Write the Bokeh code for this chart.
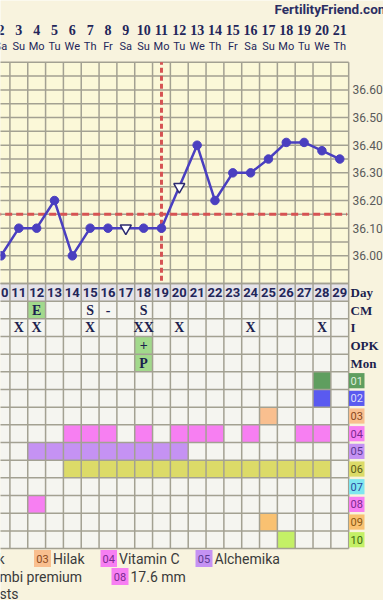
import numpy as np
from bokeh.plotting import figure
from bokeh.models import Range1d
from bokeh.core.properties import value
from bokeh.embed import file_html
from bokeh.resources import INLINE

# ---------------- data ----------------
cycle_days = [10, 11, 12, 13, 14, 15, 16, 17, 18, 19, 20, 21, 22, 23, 24, 25, 26, 27, 28, 29]
dates = ["2", "3", "4", "5", "6", "7", "8", "9", "10", "11", "12", "13", "14", "15", "16", "17", "18", "19", "20", "21"]
weekdays = ["Sa", "Su", "Mo", "Tu", "We", "Th", "Fr", "Sa", "Su", "Mo", "Tu", "We", "Th", "Fr", "Sa", "Su", "Mo", "Tu", "We", "Th"]
temps = [36.00, 36.10, 36.10, 36.20, 36.00, 36.10, 36.10, 36.10, 36.10, 36.10,
         36.25, 36.40, 36.20, 36.30, 36.30, 36.35, 36.41, 36.41, 36.38, 36.35]
open_days = [17, 20]
coverline = 36.15
ovulation_day = 19
temp_ticks = [36.00, 36.10, 36.20, 36.30, 36.40, 36.50, 36.60]
temp_tick_labels = ["36.00", "36.10", "36.20", "36.30", "36.40", "36.50", "36.60"]

row_labels = ["Day", "CM", "I", "OPK", "Mon"]
cm_days = [12, 15, 16, 18]
cm_vals = ["E", "S", "-", "S"]
i_days = [11, 12, 15, 18, 20, 24, 28]
i_vals = ["X", "X", "X", "XX", "X", "X", "X"]
opk_days = [18]
opk_vals = ["+"]
mon_days = [18]
mon_vals = ["P"]
green_cm_days = [12]

supp_codes = ["01", "02", "03", "04", "05", "06", "07", "08", "09", "10"]
supp_colors = ["#5f9e5f", "#5a5af0", "#f9bf8f", "#f77ff2", "#c592f3", "#dcdb68", "#7fe6ef", "#f77ff2", "#f9c171", "#c4f066"]
supp_text_colors = ["#dfeedd", "#dcdcf8", "#8a4a1e", "#7a2a90", "#5c3a92", "#5a5a18", "#2a4aa0", "#7a2a90", "#8a5a14", "#3c6a12"]
supp_days = [
    [28],
    [28],
    [25],
    [14, 15, 16, 18, 20, 21, 22, 24, 27, 28],
    [12, 13, 14, 15, 16, 17, 18, 19, 20],
    [14, 15, 16, 17, 18, 19, 20, 21, 22, 23, 24, 25, 26, 27, 28],
    [],
    [12],
    [25],
    [26],
]

legend_codes = ["03", "04", "05", "08"]
legend_labels = ["Hilak", "Vitamin C", "Alchemika", "17.6 mm"]
legend_partial = ["k", "mbi premium", "sts"]

# ---------------- layout constants ----------------
W, H = 383, 600
COL = 17.83          # px per day
X0 = 9.972           # day value at pixel 0
ROW = 17.67          # px per chart row
ROW_TOP = 283.0      # pixel of the top of the "Day" row
PXDEG = 276.6        # px per degree
T_BOT, T_TOP = 35.90, 36.70

def xd(px):
    return X0 + px / COL

def yr(px):
    return (px - ROW_TOP) / ROW

PAGE = "#f8f3de"
TEMP_BG = "#fbf8d8"
CELL_BG = "#f5f5f0"
DAY_BG = "#e5e3e9"
GRID = "#a3a192"
NAVY = "#23265a"
BLUE = "#4a3fc0"
RED = "#d65353"
GREEN = "#a2d98c"

p = figure(width=W, height=H, output_backend="svg", toolbar_location=None,
           x_range=Range1d(X0, X0 + W / COL),
           y_range=Range1d((H - ROW_TOP) / ROW, -ROW_TOP / ROW),
           min_border=0, x_axis_location=None, y_axis_location=None)
p.extra_y_ranges = {"temp": Range1d(T_BOT - (H - ROW_TOP) / PXDEG, T_BOT + ROW_TOP / PXDEG)}
p.grid.visible = False
p.outline_line_color = None
p.background_fill_color = PAGE
p.border_fill_color = PAGE

first, last = cycle_days[0], cycle_days[-1]
left_edge, right_edge = first - 1.0, last + 0.5
n_rows = len(row_labels) + len(supp_codes)

# backgrounds
p.quad(left=[left_edge], right=[right_edge], bottom=[T_BOT], top=[T_TOP],
       fill_color=TEMP_BG, line_color=None, y_range_name="temp")
p.quad(left=[left_edge], right=[right_edge], top=[0], bottom=[n_rows],
       fill_color=CELL_BG, line_color=None)
p.quad(left=[left_edge], right=[right_edge], top=[0], bottom=[1],
       fill_color=DAY_BG, line_color=None)

# green marked cells (CM, OPK, Mon)
gx = green_cm_days + opk_days + mon_days
gy = [1] * len(green_cm_days) + [3] * len(opk_days) + [4] * len(mon_days)
p.quad(left=[d - 0.5 for d in gx], right=[d + 0.5 for d in gx],
       top=gy, bottom=[g + 1 for g in gy], fill_color=GREEN, line_color=None)

# supplement cells
for r, (days, col) in enumerate(zip(supp_days, supp_colors)):
    if not days:
        continue
    row = len(row_labels) + r
    p.quad(left=[d - 0.5 for d in days], right=[d + 0.5 for d in days],
           top=[row] * len(days), bottom=[row + 1] * len(days),
           fill_color=col, line_color=None)

# grid lines
vx = [d - 0.5 for d in cycle_days] + [last + 0.5]
p.segment(x0=vx, x1=vx, y0=[T_BOT] * len(vx), y1=[T_TOP] * len(vx),
          line_color=GRID, line_width=1.5, y_range_name="temp")
p.segment(x0=vx, x1=vx, y0=[0] * len(vx), y1=[n_rows] * len(vx),
          line_color=GRID, line_width=1.5)
hy = list(np.round(np.arange(T_BOT, T_TOP + 0.001, 0.05), 2))
p.segment(x0=[left_edge] * len(hy), x1=[right_edge] * len(hy), y0=hy, y1=hy,
          line_color=GRID, line_width=1.5, y_range_name="temp")
ry = list(range(0, n_rows + 1))
p.segment(x0=[left_edge] * len(ry), x1=[right_edge] * len(ry), y0=ry, y1=ry,
          line_color=GRID, line_width=1.5)

# coverline and ovulation line
p.line(x=[left_edge, last + 0.4], y=[coverline, coverline], line_color=RED,
       line_width=3, line_dash="7 4", y_range_name="temp")
p.line(x=[ovulation_day, ovulation_day], y=[T_BOT + 0.01, T_TOP], line_color=RED,
       line_width=3, line_dash="5 3", y_range_name="temp")

# temperature line
p.line(x=cycle_days, y=temps, line_color=BLUE, line_width=2.5, y_range_name="temp")
solid_x = [d for d in cycle_days if d not in open_days]
solid_y = [t for d, t in zip(cycle_days, temps) if d not in open_days]
open_x = [d for d in cycle_days if d in open_days]
open_y = [t for d, t in zip(cycle_days, temps) if d in open_days]
p.scatter(x=solid_x, y=solid_y, size=8.5, fill_color=BLUE, line_color=BLUE,
          y_range_name="temp")
p.scatter(x=open_x, y=open_y, marker="inverted_triangle", size=11, fill_color="white",
          line_color="#2c2a70", line_width=1.5, y_range_name="temp")

# temperature labels
p.text(x=[xd(352)] * len(temp_ticks), y=temp_ticks, text=temp_tick_labels,
       text_font=value("Roboto"), text_font_size="12px", text_color="#5a5a5a",
       text_align="left", text_baseline="middle", y_range_name="temp")

# header
p.text(x=[xd(274)], y=[yr(8)], text=["FertilityFriend.com"], text_font=value("Roboto"),
       text_font_style="bold", text_font_size="13.5px", text_color="#2b2e63",
       text_align="left", text_baseline="middle")
p.text(x=cycle_days, y=[yr(29)] * len(cycle_days), text=dates,
       text_font=value("Liberation Serif"), text_font_style="bold", text_font_size="14px",
       text_color=NAVY, text_align="center", text_baseline="middle")
p.text(x=cycle_days, y=[yr(46)] * len(cycle_days), text=weekdays,
       text_font=value("Roboto"), text_font_size="11px", text_color=NAVY,
       text_align="center", text_baseline="middle")

# Day row
p.text(x=cycle_days, y=[0.5] * len(cycle_days), text=[str(d) for d in cycle_days],
       text_font=value("Roboto"), text_font_style="bold", text_font_size="13px",
       text_color=NAVY, text_align="center", text_baseline="middle")

# CM / I / OPK / Mon rows
for row, (days, vals) in enumerate([(cm_days, cm_vals), (i_days, i_vals),
                                    (opk_days, opk_vals), (mon_days, mon_vals)], start=1):
    p.text(x=days, y=[row + 0.5] * len(days), text=vals,
           text_font=value("Liberation Serif"), text_font_style="bold",
           text_font_size="14px", text_color="#1c1f4e",
           text_align="center", text_baseline="middle")

# row labels
p.text(x=[xd(350)] * len(row_labels), y=[i + 0.5 for i in range(len(row_labels))],
       text=row_labels, text_font=value("Liberation Serif"), text_font_style="bold",
       text_font_size="13px", text_color="#1c1f4e", text_align="left", text_baseline="middle")

# supplement labels
sy = [len(row_labels) + r for r in range(len(supp_codes))]
p.quad(left=[xd(348.5)] * len(sy), right=[xd(364)] * len(sy),
       top=[s + 0.07 for s in sy], bottom=[s + 0.93 for s in sy],
       fill_color=supp_colors, line_color=None)
p.text(x=[xd(356.2)] * len(sy), y=[s + 0.5 for s in sy], text=supp_codes,
       text_font=value("Roboto"), text_font_size="11px", text_color=supp_text_colors,
       text_align="center", text_baseline="middle")

# legend
code_color = dict(zip(supp_codes, supp_colors))
code_tcolor = dict(zip(supp_codes, supp_text_colors))
leg_box_px = [(33.5, 50.5, 558), (100, 116.5, 558), (195, 212, 558), (111, 128, 576)]
for code, label, (l, r, cy) in zip(legend_codes, legend_labels, leg_box_px):
    p.quad(left=[xd(l)], right=[xd(r)], top=[yr(cy - 8.5)], bottom=[yr(cy + 8.5)],
           fill_color=code_color[code], line_color=None)
    p.text(x=[xd((l + r) / 2)], y=[yr(cy)], text=[code], text_font=value("Roboto"),
           text_font_size="11px", text_color=code_tcolor[code],
           text_align="center", text_baseline="middle")
    p.text(x=[xd(r + 2)], y=[yr(cy)], text=[label], text_font=value("Roboto"),
           text_font_size="14px", text_color="#3a3a3a",
           text_align="left", text_baseline="middle")
p.text(x=[xd(4)], y=[yr(558)], text=[legend_partial[0]], text_font=value("Roboto"),
       text_font_size="14px", text_color="#3a3a3a", text_align="right", text_baseline="middle")
p.text(x=[xd(-1)], y=[yr(576)], text=[legend_partial[1]], text_font=value("Roboto"),
       text_font_size="14px", text_color="#3a3a3a", text_align="left", text_baseline="middle")
p.text(x=[xd(-1)], y=[yr(593)], text=[legend_partial[2]], text_font=value("Roboto"),
       text_font_size="14px", text_color="#3a3a3a", text_align="left", text_baseline="middle")

open("out.html", "w").write(file_html(p, INLINE))
